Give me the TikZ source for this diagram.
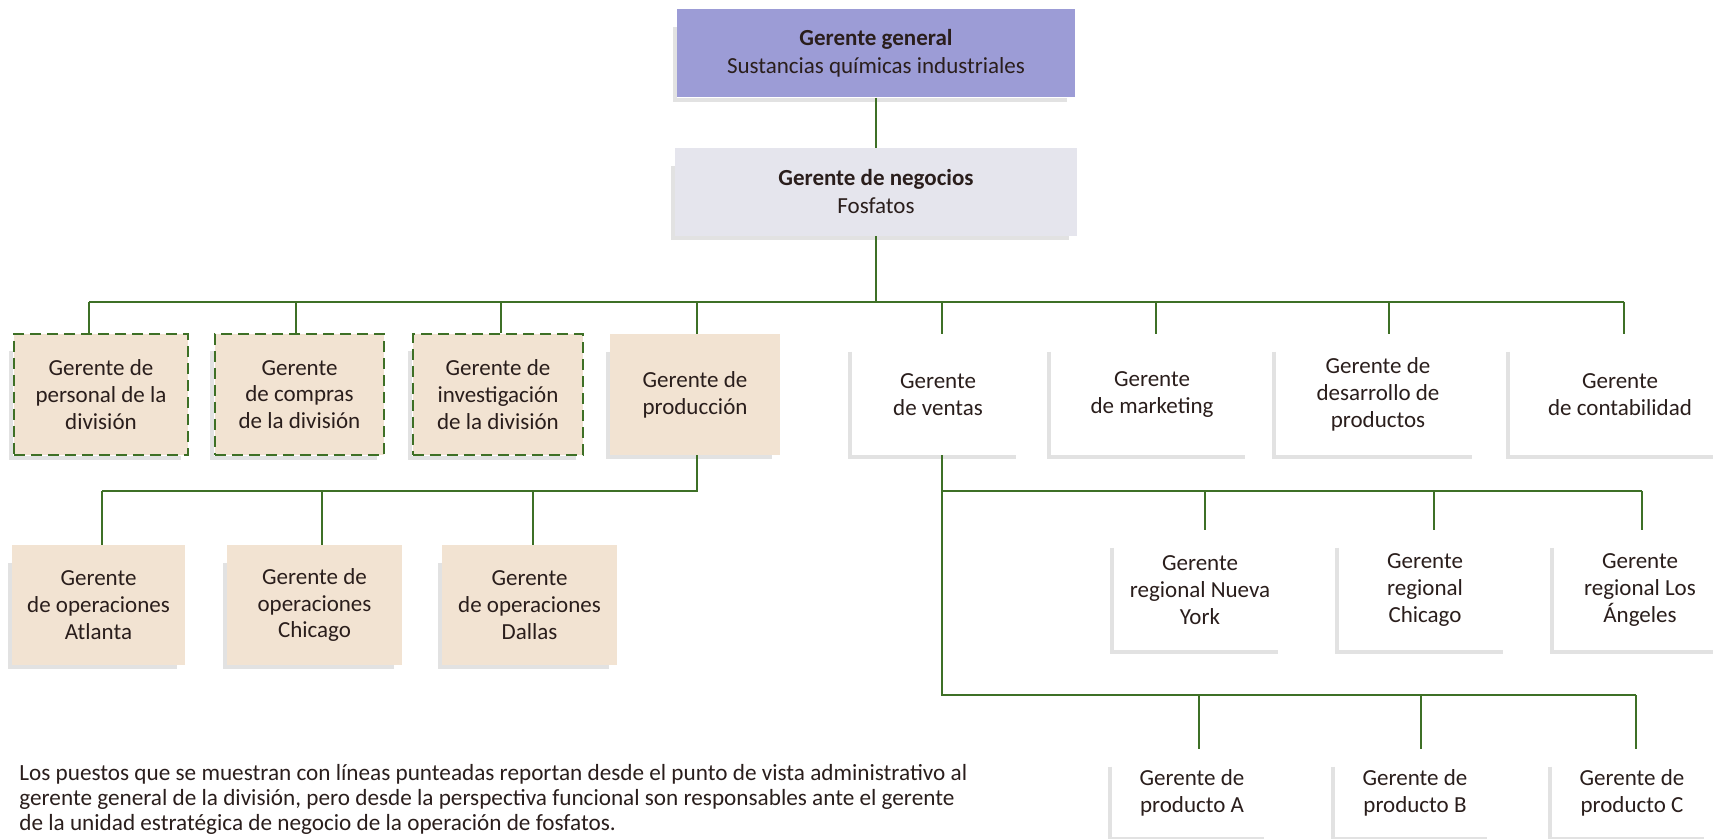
\documentclass[tikz,border=0pt]{standalone}
\usepackage{fontspec}
\setmainfont{Carlito}
\usepackage{tikz}
\usepackage{xcolor}
\usetikzlibrary{positioning,calc}
\definecolor{linegreen}{RGB}{62,112,38}
\definecolor{headviolet}{RGB}{156,156,214}
\definecolor{bizgray}{RGB}{229,229,237}
\definecolor{sandbeige}{RGB}{242,227,210}
\definecolor{rimgray}{RGB}{226,226,226}
\definecolor{inkbrown}{RGB}{42,30,28}

\tikzset{
  unit/.style={rectangle, inner sep=0pt, align=center, text=inkbrown,
    font=\fontsize{11.5}{13.4}\selectfont, minimum height=60.5pt},
  headunit/.style={unit, font=\fontsize{11.5}{14}\selectfont, minimum height=44pt},
  plainunit/.style={unit, fill=white},
  sandunit/.style={unit, fill=sandbeige},
  staffunit/.style={unit, fill=sandbeige, draw=linegreen, line width=1.4pt,
    dash pattern=on 5.5pt off 3pt},
  link/.style={draw=linegreen, line width=1.2pt},
  rim/.style={draw=rimgray, line width=2pt},
}

\begin{document}
\begin{tikzpicture}[x=0.5pt,y=-0.5pt]
  \useasboundingbox (0,0) rectangle (1713,839);

  \node[headunit, fill=headviolet, minimum width=199pt] (gg) at (876,53.5)
    {\textbf{Gerente general}\\Sustancias químicas industriales};
  \node[headunit, fill=bizgray, minimum width=201pt] (gn) at (876,192)
    {\textbf{Gerente de negocios}\\Fosfatos};

  \node[staffunit, minimum width=87pt] (pers) at (101,394.5) {Gerente de\\personal de la\\división};
  \node[staffunit, minimum width=84.5pt] (comp) at (299.5,394.5) {Gerente\\de compras\\de la división};
  \node[staffunit, minimum width=85pt] (inv) at (498,394.5) {Gerente de\\investigación\\de la división};
  \node[sandunit, minimum width=85pt] (prod) at (695,394.5) {Gerente de\\producción};
  \node[plainunit, minimum width=86pt] (vent) at (938,394.5) {Gerente\\de ventas};
  \node[plainunit, minimum width=101pt] (mkt) at (1152,394.5) {Gerente\\de marketing};
  \node[plainunit, minimum width=102pt] (des) at (1378,394.5) {Gerente de\\desarrollo de\\productos};
  \node[plainunit, minimum width=110pt] (cont) at (1620,394.5) {Gerente\\de contabilidad};

  \node[sandunit, minimum width=86.5pt, minimum height=60pt] (atl) at (98.5,605) {Gerente\\de operaciones\\Atlanta};
  \node[sandunit, minimum width=87.5pt, minimum height=60pt] (chiop) at (314.5,605) {Gerente de\\operaciones\\Chicago};
  \node[sandunit, minimum width=87.5pt, minimum height=60pt] (dal) at (529.5,605) {Gerente\\de operaciones\\Dallas};

  \node[plainunit, minimum width=86pt, minimum height=60pt] (nyk) at (1200,590) {Gerente\\regional Nueva\\York};
  \node[plainunit, minimum width=86pt, minimum height=60pt] (chir) at (1425,590) {Gerente\\regional\\Chicago};
  \node[plainunit, minimum width=86pt, minimum height=60pt] (lax) at (1640,590) {Gerente\\regional Los\\Ángeles};

  \node[plainunit, minimum width=80pt, minimum height=44pt] (pa) at (1192,793) {Gerente de\\producto A};
  \node[plainunit, minimum width=80pt, minimum height=44pt] (pb) at (1415,793) {Gerente de\\producto B};
  \node[plainunit, minimum width=80pt, minimum height=44pt] (pc) at (1632,793) {Gerente de\\producto C};

  \foreach \kn in {gg,gn,pers,comp,inv,prod,vent,mkt,des,cont,atl,chiop,dal,nyk,chir,lax,pa,pb,pc}
    \draw[rim] ([xshift=-1pt,yshift=-9pt]\kn.north west) -- ([xshift=-1pt,yshift=-1pt]\kn.south west)
      -- ([xshift=-4pt,yshift=-1pt]\kn.south east);

  % first level
  \draw[link] (gg) -- (gn);
  \foreach \kx/\kn in {89/pers, 296/comp, 501/inv, 697/prod, 942/vent, 1156/mkt, 1389/des, 1624/cont} {
    \coordinate (t\kn) at (\kx,302);
    \draw[link] (t\kn) -- (t\kn |- \kn.north);
  }
  \draw[link] (tpers) -- (tcont);
  \draw[link] (gn) -- (gn |- tpers);

  % production
  \foreach \kx/\kn in {102/atl, 322/chiop, 533/dal} {
    \coordinate (t\kn) at (\kx,491);
    \draw[link] (t\kn) -- (t\kn |- \kn.north);
  }
  \draw[link] (tprod |- prod.south) |- (tatl);

  % sales
  \foreach \kx/\kn in {1205/nyk, 1434/chir, 1642/lax} {
    \coordinate (t\kn) at (\kx,491);
    \draw[link] (t\kn) -- (t\kn |- \kn.north);
  }
  \foreach \kx/\kn in {1199/pa, 1421/pb, 1636/pc} {
    \coordinate (t\kn) at (\kx,695);
    \draw[link] (t\kn) -- (t\kn |- \kn.north);
  }
  \draw[link] (tvent |- vent.south) |- (tpc);
  \draw[link] (tvent |- tnyk) -- (tlax);

  \node[anchor=north west, inner sep=0pt, align=left, text=inkbrown,
    font=\fontsize{11.6}{12.5}\selectfont] (nota) at (19,764)
    {Los puestos que se muestran con líneas punteadas reportan desde el punto de vista administrativo al\\
     gerente general de la división, pero desde la perspectiva funcional son responsables ante el gerente\\
     de la unidad estratégica de negocio de la operación de fosfatos.};
\end{tikzpicture}
\end{document}
